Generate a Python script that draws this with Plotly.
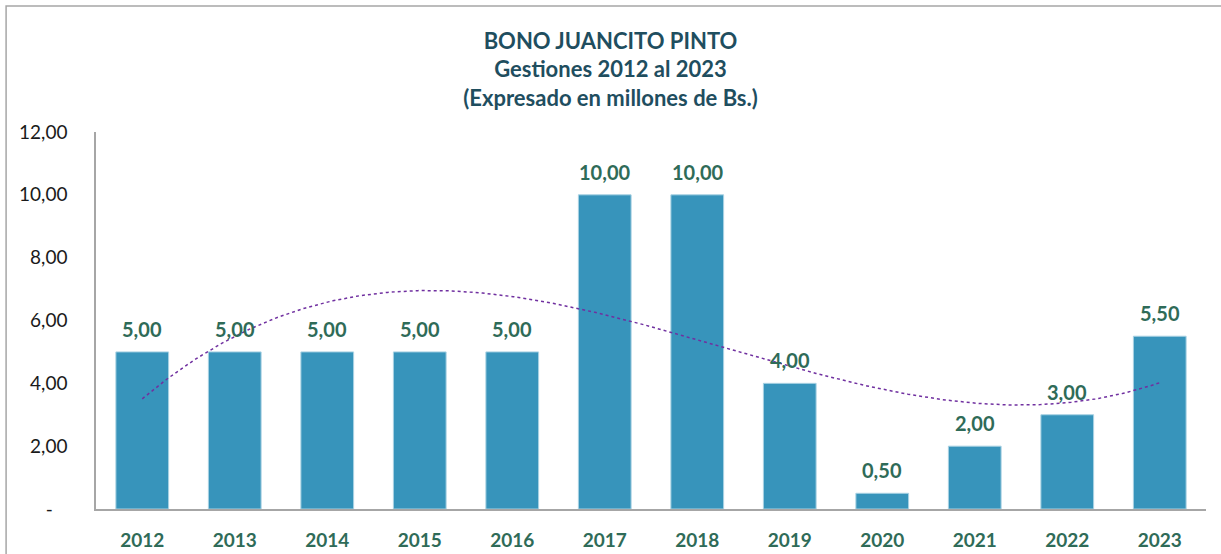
import numpy as np
import plotly.graph_objects as go

years = [2012, 2013, 2014, 2015, 2016, 2017, 2018, 2019, 2020, 2021, 2022, 2023]
values = [5.00, 5.00, 5.00, 5.00, 5.00, 10.00, 10.00, 4.00, 0.50, 2.00, 3.00, 5.50]
y_tickvals = [0, 2, 4, 6, 8, 10, 12]
y_ticktext = ["-\u00a0\u00a0\u00a0", "2,00", "4,00", "6,00", "8,00", "10,00", "12,00"]
title_lines = ["BONO JUANCITO PINTO", "Gestiones 2012 al 2023", "(Expresado en millones de Bs.)"]

# polynomial (order 3) trendline, as in the spreadsheet chart
idx = np.arange(1, len(years) + 1)
coef = np.polyfit(idx, values, 3)
t = np.linspace(1, len(years), 300)
trend_x = years[0] + (t - 1)
trend_y = np.polyval(coef, t)

BAR = "#3794BB"
LBL = "#2F6B58"
TITLE = "#1F4E5F"

fig = go.Figure()
fig.add_trace(go.Bar(
    x=years, y=values,
    marker=dict(color=BAR, line=dict(color="#A9D2E3", width=1)),
    width=0.57,
    showlegend=False,
))
fig.add_trace(go.Scatter(
    x=trend_x, y=trend_y, mode="lines",
    line=dict(color="#7030A0", width=1.5, dash="dot"),
    showlegend=False, hoverinfo="skip",
))

annotations = [
    dict(x=yr, y=v, xref="x", yref="y", text=f"{v:.2f}".replace(".", ","),
         showarrow=False, yanchor="bottom", yshift=9,
         font=dict(family="Lato", size=20, color=LBL, weight="bold"))
    for yr, v in zip(years, values)
]

fig.update_layout(
    width=1221, height=554,
    margin=dict(l=96, r=15, t=132, b=45),
    paper_bgcolor="white", plot_bgcolor="white",
    separators=",.",
    title=dict(
        text="<br>".join(title_lines),
        x=0.5, xref="container", xanchor="center",
        y=0.912, yref="container", yanchor="top",
        font=dict(family="Lato", size=22, color=TITLE, weight="bold"),
    ),
    xaxis=dict(
        range=[2011.5, 2023.5],
        tickvals=years, ticktext=[str(y) for y in years],
        showgrid=False, zeroline=False, automargin=False,
        showline=True, linecolor="#A6A6A6", linewidth=2,
        ticks="", ticklabelstandoff=13,
        tickfont=dict(family="Lato", size=19, color=LBL, weight="bold"),
    ),
    yaxis=dict(
        range=[0, 12],
        tickvals=y_tickvals, ticktext=y_ticktext,
        showgrid=False, zeroline=False, automargin=False,
        showline=True, linecolor="#A6A6A6", linewidth=1.5,
        ticks="", ticklabelstandoff=23,
        tickfont=dict(family="Lato", size=19, color="#1a1a1a"),
    ),
    annotations=annotations,
    shapes=[dict(
        type="rect", xref="paper", yref="paper",
        x0=-0.081, x1=1.02, y0=-0.2, y1=1.334,
        line=dict(color="#A6A6A6", width=1.5), fillcolor="rgba(0,0,0,0)",
        layer="below",
    )],
)

fig.write_html("out.html", config={"displayModeBar": False},
               post_script="document.body.style.margin='0';")
